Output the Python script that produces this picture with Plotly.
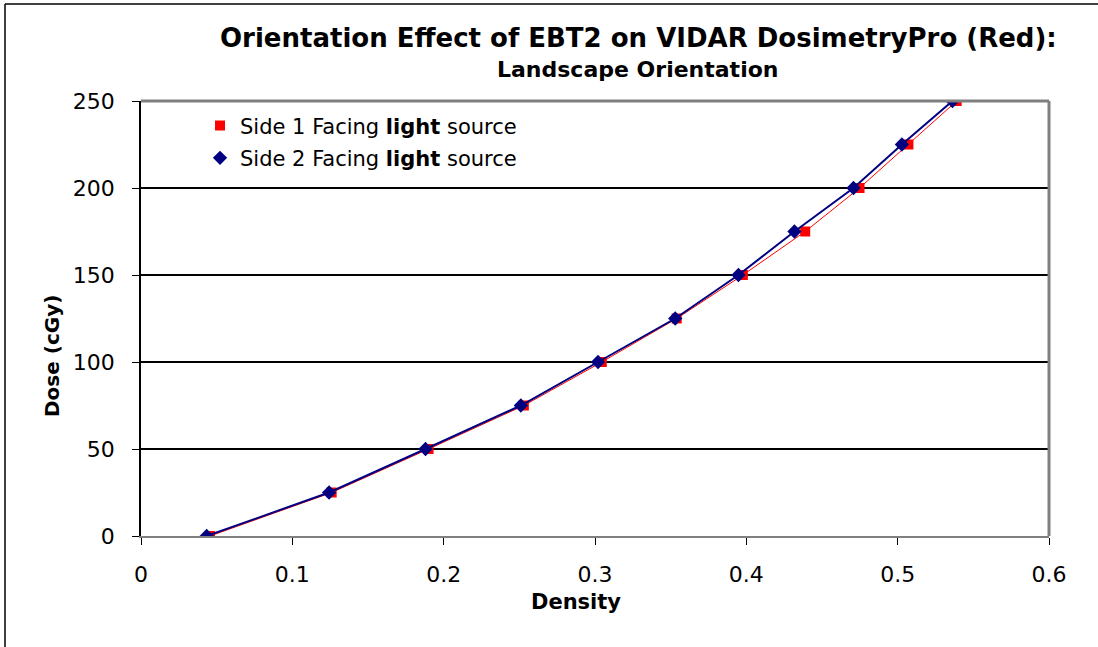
import plotly.graph_objects as go

dose = [0, 25, 50, 75, 100, 125, 150, 175, 200, 225, 250]
side1_density = [0.0456, 0.126, 0.190, 0.253, 0.3045, 0.354, 0.3977, 0.4389, 0.4748, 0.5071, 0.539]
side2_density = [0.0434, 0.1243, 0.188, 0.251, 0.302, 0.353, 0.3948, 0.4318, 0.4708, 0.5028, 0.5362]

series_names = ["Side 1 Facing <b>light</b> source", "Side 2 Facing <b>light</b> source"]
x_ticks = [0, 0.1, 0.2, 0.3, 0.4, 0.5, 0.6]
x_tick_labels = ["0", "0.1", "0.2", "0.3", "0.4", "0.5", "0.6"]
y_ticks = [0, 50, 100, 150, 200, 250]
title_text = "Orientation Effect of EBT2 on VIDAR DosimetryPro (Red):"
subtitle_text = "Landscape Orientation"
x_title = "Density"
y_title = "Dose (cGy)"

FONT = "DejaVu Sans, Arial, sans-serif"
RED = "#FF0000"
NAVY = "#000080"

fig = go.Figure()
fig.add_trace(go.Scatter(x=side1_density, y=dose, mode="lines+markers",
                         line=dict(color=RED, width=1),
                         marker=dict(symbol="square", size=10, color=RED),
                         showlegend=False, legendgroup="s1"))
fig.add_trace(go.Scatter(x=side2_density, y=dose, mode="lines+markers",
                         line=dict(color=NAVY, width=2),
                         marker=dict(symbol="diamond", size=11, color=NAVY),
                         showlegend=False, legendgroup="s2"))
# legend-only entries (marker only, as in the reference)
fig.add_trace(go.Scatter(x=[None], y=[None], mode="markers", name=series_names[0],
                         marker=dict(symbol="square", size=10, color=RED), legendgroup="s1"))
fig.add_trace(go.Scatter(x=[None], y=[None], mode="markers", name=series_names[1],
                         marker=dict(symbol="diamond", size=11, color=NAVY), legendgroup="s2"))

W, H = 1098, 647
L, R, T, B = 141, 49, 101, 111
pw, ph = W - L - R, H - T - B

def px_x(p):  # page pixel -> paper x
    return (p - L) / pw

def px_y(p):  # page pixel -> paper y
    return (H - B - p) / ph

fig.update_layout(
    width=W, height=H,
    margin=dict(l=L, r=R, t=T, b=B, pad=0),
    paper_bgcolor="white", plot_bgcolor="white",
    font=dict(family=FONT, color="black", size=18),
    xaxis=dict(range=[0, 0.6], tickvals=x_ticks, ticktext=x_tick_labels,
               showgrid=False, zeroline=False,
               showline=True, linecolor="#808080", linewidth=1.5,
               ticks="outside", ticklen=7, tickcolor="black", tickwidth=1,
               tickfont=dict(size=22), ticklabelstandoff=11),
    yaxis=dict(range=[0, 250], tickvals=y_ticks,
               showgrid=True, gridcolor="black", gridwidth=1.5, zeroline=False,
               showline=True, linecolor="black", linewidth=1.5,
               ticks="outside", ticklen=7, tickcolor="black", tickwidth=1,
               tickfont=dict(size=22), ticklabelstandoff=13),
    legend=dict(x=0.065, y=0.99, xanchor="left", yanchor="top",
                bgcolor="rgba(0,0,0,0)", font=dict(size=21), itemwidth=30,
                tracegroupgap=2),
    annotations=[
        dict(text="<b>" + title_text + "</b>", xref="paper", yref="paper",
             x=px_x(638), y=px_y(38), xanchor="center", yanchor="middle",
             showarrow=False, font=dict(size=26)),
        dict(text="<b>" + subtitle_text + "</b>", xref="paper", yref="paper",
             x=px_x(637), y=px_y(70), xanchor="center", yanchor="middle",
             showarrow=False, font=dict(size=22)),
        dict(text="<b>" + x_title + "</b>", xref="paper", yref="paper",
             x=px_x(576), y=px_y(602), xanchor="center", yanchor="middle",
             showarrow=False, font=dict(size=21)),
        dict(text="<b>" + y_title + "</b>", xref="paper", yref="paper",
             x=px_x(52), y=px_y(356), xanchor="center", yanchor="middle",
             textangle=-90, showarrow=False, font=dict(size=20)),
    ],
    shapes=[
        dict(type="line", xref="paper", yref="paper", x0=0, x1=1, y0=1, y1=1,
             line=dict(color="#808080", width=3)),
        dict(type="line", xref="paper", yref="paper", x0=1, x1=1, y0=0, y1=1,
             line=dict(color="#808080", width=3)),
        dict(type="line", xref="paper", yref="paper",
             x0=px_x(5), x1=px_x(5), y0=px_y(H + 5), y1=px_y(4),
             line=dict(color="black", width=1.5)),
        dict(type="line", xref="paper", yref="paper",
             x0=px_x(5), x1=px_x(W + 5), y0=px_y(4), y1=px_y(4),
             line=dict(color="black", width=1.5)),
    ],
)

fig.write_html("out.html", config={"displayModeBar": False},
               post_script="document.body.style.margin='0';document.body.style.overflow='hidden';")
